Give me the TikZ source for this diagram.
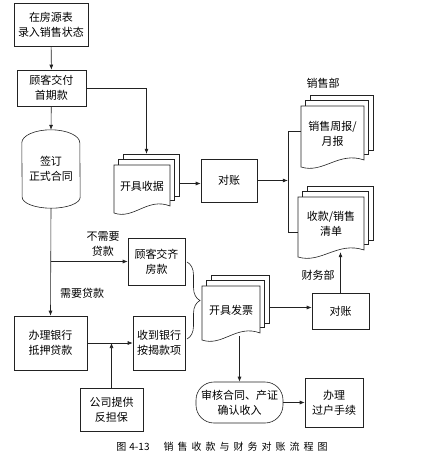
\documentclass[tikz,border=0pt]{standalone}
\usepackage{fontspec}
\setmainfont{Noto Sans CJK SC}
\newfontfamily\capfont[LetterSpace=40]{Noto Sans CJK SC}
\usepackage{tikz}
\usetikzlibrary{arrows.meta,positioning,calc,decorations.pathreplacing}
\definecolor{ink}{HTML}{222222}

% stack of three documents: name, left, top, right, bottom (left corner), text
\newcommand\docstack[6]{%
  \foreach \k in {2,1}
    \filldraw[doc] ({#2+4.5*\k},{#3-5.5*\k}) rectangle ({#4+4.5*\k},{#5-9-4*\k});
  \filldraw[doc] (#2,#3) -- (#4,#3) -- ({#4},{#5-7})
    .. controls ({#4-0.4*(#4-#2)},{#5-16}) and ({#2+0.35*(#4-#2)},{#5+7}) .. (#2,#5) -- cycle;
  \node[inner sep=0pt,minimum width={#4-#2+9},minimum height={#5-#3+11}] (#1)
    at ({(#2+#4+9)/2},{(#3+#5-11)/2}) {};
  \node[txt] (#1-t) at ({(#2+#4)/2},{(#3+#5)/2-3}) {#6};
}

\begin{document}
\begin{tikzpicture}[x=1pt,y=-1pt,font=\fontsize{11}{15}\selectfont,
  line/.style={draw=ink,line width=0.6pt},
  arr/.style={line,-{Latex[length=5pt,width=4pt]}},
  box/.style={line,align=center,inner sep=0pt},
  doc/.style={line,fill=white},
  txt/.style={align=center,inner sep=0pt}]
  \useasboundingbox (0,0) rectangle (441,467);

  % sales column
  \node[box,minimum width=74,minimum height=43] (src) at (51,24.5) {在房源表\\录入销售状态};
  \node[box,minimum width=69,minimum height=36] (pay1) at (51.5,88) {顾客交付\\首期款};
  \node[txt,minimum width=58,minimum height=78] (contract) at (51,169) {签订\\正式合同};
  \draw[line] ($(contract.north west)+(0,13)$) arc[start angle=180,end angle=0,x radius=29pt,y radius=13pt]
    -- ($(contract.south east)+(0,-11)$) arc[start angle=0,end angle=-180,x radius=29pt,y radius=11pt] -- cycle;
  \docstack{receipt}{114}{165}{170}{213}{开具收据}
  \node[box,minimum width=56,minimum height=43] (check1) at (229,180.5) {对账};
  \docstack{weekly}{301}{106}{364}{167}{销售周报/\\月报}
  \docstack{list}{298}{197}{364}{257}{收款/销售\\清单}
  \node[txt] (sales) at (323,83) {销售部};
  \coordinate (brk) at ($(weekly.west)+(-13,0)$);
  \draw[line] (weekly.west) -- (brk) |- ($(list.west)+(0,11)$);

  % payment and finance
  \node[box,minimum width=57,minimum height=47] (full) at (156.5,261.5) {顾客交齐\\房款};
  \node[box,minimum width=73,minimum height=54] (loan) at (50.5,343) {办理银行\\抵押贷款};
  \node[box,minimum width=52,minimum height=54] (bank) at (159,343) {收到银行\\按揭款项};
  \node[box,minimum width=63,minimum height=43] (guar) at (111.5,409.5) {公司提供\\反担保};
  \node[txt] (noloan) at (103,244) {不需要\\贷款};
  \node[txt] (needloan) at (82,293) {需要贷款};
  \docstack{invoice}{202}{286}{260}{340}{开具发票}
  \node[box,minimum width=57,minimum height=36] (check2) at (340.5,311) {对账};
  \node[txt] (fin) at (318,275) {财务部};
  \node[box,rounded corners=18pt,minimum width=87,minimum height=41] (audit) at (239.5,402.5) {审核合同、产证\\确认收入};
  \node[box,minimum width=58,minimum height=49] (transfer) at (334,402.5) {办理\\过户手续};
  \draw[line,decorate,decoration={brace,amplitude=13pt}] (187,262) -- (187,339);

  % connectors
  \draw[arr] (src) -- (pay1);
  \draw[arr] (pay1) -- (contract.north);
  \draw[arr] (pay1.east) -| (receipt.north);
  \draw[arr] (receipt.east) -- (receipt.east -| check1.west);
  \draw[arr] (check1.east) -- (check1.east -| brk);
  \draw[arr] (contract.south) -- (loan.north);
  \draw[arr] (contract.south |- full.west) -- (full.west);
  \draw[arr] (loan) -- (bank);
  \draw[arr] (guar.north) -- (guar.north |- loan.east);
  \draw[arr] (invoice.east) -- (invoice.east -| check2.west);
  \draw[arr] (check2.north) -- ($(check2.north |- list.south)+(0,-5)$);
  \draw[arr] ($(audit.north |- invoice.south)+(0,-4)$) -- (audit.north);
  \draw[arr] (audit) -- (transfer);

  \node (cap) at (222,447) {\fontsize{10}{12}\selectfont 图\hspace{3pt}4-13\hspace{14pt}{\capfont 销售收款与财务对账流程图}};
\end{tikzpicture}
\end{document}
